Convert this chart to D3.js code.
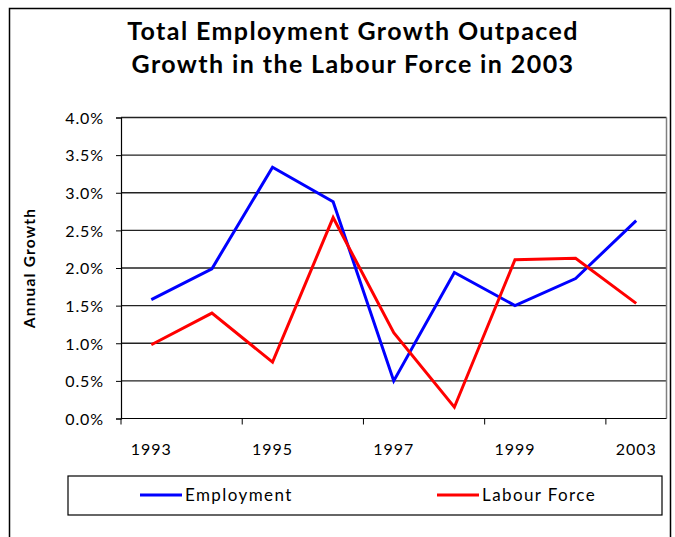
<!DOCTYPE html>
<html>
<head>
<meta charset="utf-8">
<script src="https://cdn.jsdelivr.net/npm/d3@7/dist/d3.min.js"></script>
<style>
  html, body { margin: 0; padding: 0; background: #fff; }
  svg { display: block; font-family: Lato, "Open Sans", sans-serif; }
</style>
</head>
<body>
<svg id="chart" width="675" height="537"></svg>
<script>
const categories = ["1993", "1994", "1995", "1996", "1997", "1998", "1999", "2001", "2003"];
const tickLabels = ["1993", "1995", "1997", "1999", "2003"];
const employment = [1.58, 1.99, 3.34, 2.88, 0.50, 1.94, 1.50, 1.86, 2.63];
const labourForce = [0.98, 1.40, 0.75, 2.67, 1.14, 0.15, 2.11, 2.13, 1.53];
const yTicks = [0, 0.5, 1.0, 1.5, 2.0, 2.5, 3.0, 3.5, 4.0];
const seriesNames = ["Employment", "Labour Force"];
const seriesColors = ["#0000ff", "#ff0000"];

const svg = d3.select("#chart");
const plot = { left: 121, right: 666.5, top: 117.5, bottom: 418.5 };

// outer chart border
svg.append("rect").attr("x", 9.5).attr("y", 8.5).attr("width", 661).attr("height", 560)
  .attr("fill", "none").attr("stroke", "#000").attr("stroke-width", 1.5);

// title
const title = svg.append("text").attr("text-anchor", "middle")
  .attr("font-weight", "bold").attr("font-size", 25).attr("fill", "#000")
  .style("letter-spacing", "1.4px");
title.append("tspan").attr("x", 353).attr("y", 40).text("Total Employment Growth Outpaced");
title.append("tspan").attr("x", 353).attr("y", 73).text("Growth in the Labour Force in 2003");

const x = d3.scaleBand().domain(categories).range([plot.left, plot.right]).paddingInner(0).paddingOuter(0);
const y = d3.scaleLinear().domain([0, 4]).range([plot.bottom, plot.top]);

// gridlines
svg.append("g").selectAll("line").data(yTicks.filter(d => d > 0)).join("line")
  .attr("x1", plot.left).attr("x2", plot.right)
  .attr("y1", d => y(d)).attr("y2", d => y(d))
  .attr("stroke", "#222").attr("stroke-width", 1.3);

// plot right border
svg.append("line").attr("x1", plot.right).attr("x2", plot.right)
  .attr("y1", plot.top).attr("y2", plot.bottom)
  .attr("stroke", "#808080").attr("stroke-width", 1.5);

// y axis
const yAxis = d3.axisLeft(y).tickValues(yTicks).tickSize(5).tickPadding(12)
  .tickFormat(d => d.toFixed(1) + "%");
const gy = svg.append("g").attr("transform", `translate(${plot.left},0)`).call(yAxis);
gy.attr("font-size", null).attr("font-family", null);
gy.select(".domain").attr("stroke", "#000").attr("stroke-width", 1.2);
gy.selectAll(".tick line").attr("stroke", "#000");
gy.selectAll(".tick text").attr("fill", "#000").attr("dy", "0.36em")
  .style("font-size", "16px").style("letter-spacing", "0.9px");

// x axis line
svg.append("line").attr("x1", plot.left).attr("x2", plot.right)
  .attr("y1", plot.bottom).attr("y2", plot.bottom)
  .attr("stroke", "#000").attr("stroke-width", 1.2);

// x tick marks at category boundaries every two categories
const boundaries = categories.filter((c, i) => i % 2 === 0).map(c => x(c));
svg.append("g").selectAll("line").data(boundaries).join("line")
  .attr("x1", d => d).attr("x2", d => d)
  .attr("y1", plot.bottom).attr("y2", plot.bottom + 6)
  .attr("stroke", "#000");

// x labels
svg.append("g").selectAll("text").data(tickLabels).join("text")
  .attr("x", (d, i) => x(categories[i * 2]) + x.bandwidth() / 2)
  .attr("y", 455)
  .attr("text-anchor", "middle").attr("font-size", 16).attr("fill", "#000")
  .style("letter-spacing", "1px")
  .text(d => d);

// y axis title
svg.append("text")
  .attr("transform", "translate(35,268) rotate(-90)")
  .attr("text-anchor", "middle").attr("font-weight", "bold").attr("font-size", 15.5)
  .style("letter-spacing", "1.2px")
  .attr("fill", "#000").text("Annual Growth");

// lines
const line = d3.line()
  .x((d, i) => x(categories[i]) + x.bandwidth() / 2)
  .y(d => y(d));
[employment, labourForce].forEach((s, k) => {
  svg.append("path").datum(s).attr("d", line)
    .attr("fill", "none").attr("stroke", seriesColors[k]).attr("stroke-width", 3)
    .attr("stroke-linejoin", "miter");
});

// legend
svg.append("rect").attr("x", 68).attr("y", 476).attr("width", 594).attr("height", 39)
  .attr("fill", "#fff").attr("stroke", "#000").attr("stroke-width", 1.2);
const legendX = [140, 437];
seriesNames.forEach((name, k) => {
  svg.append("line").attr("x1", legendX[k]).attr("x2", legendX[k] + 42)
    .attr("y1", 495).attr("y2", 495)
    .attr("stroke", seriesColors[k]).attr("stroke-width", 3);
  svg.append("text").attr("x", legendX[k] + 45).attr("y", 501)
    .attr("font-size", 17).attr("fill", "#000").style("letter-spacing", "1.4px")
    .text(name);
});
</script>
</body>
</html>
